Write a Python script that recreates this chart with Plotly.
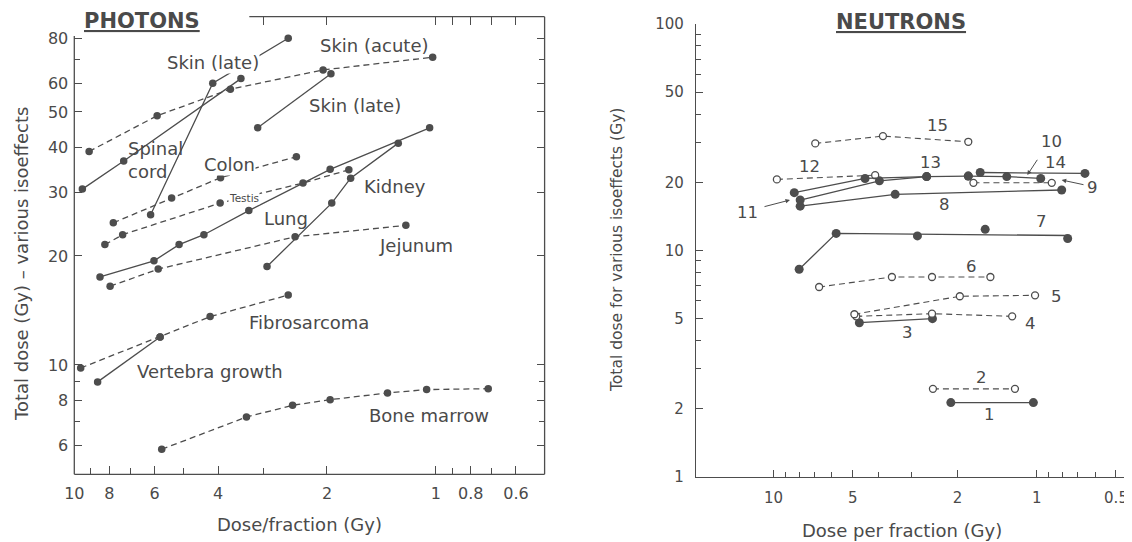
import math
import plotly.graph_objects as go

# reference canvas size; the page adds an 8 px body margin, so the figure is
# drawn 8 px smaller and every reference pixel position is shifted by 8 px
W, H = 1132, 542
OFF = 8
FW, FH = W - OFF, H - OFF
LINE = '#4d4d4d'
TEXT = '#4a4a4a'
FONT = 'DejaVu Sans'

# ---------------- PHOTONS data (dose/fraction Gy, total dose Gy) ----------------
skin_acute_x = [9.1, 5.9, 3.7, 2.05, 1.02]
skin_acute_y = [38.9, 48.8, 57.8, 65.3, 70.8]
skin_late_a_x = [9.5, 7.3, 3.46]
skin_late_a_y = [30.6, 36.6, 61.8]
spinal_cord_x = [6.15, 4.14, 2.56]
spinal_cord_y = [26.0, 60.0, 79.9]
skin_late_b_x = [3.11, 1.95]
skin_late_b_y = [45.2, 63.7]
colon_x = [7.8, 5.38, 3.94, 2.43]
colon_y = [24.7, 28.9, 32.9, 37.6]
testis_x = [8.23, 7.35, 3.95, 2.33, 1.74]
testis_y = [21.5, 22.9, 28.0, 31.8, 34.6]
lung_x = [8.49, 6.02, 5.13, 4.38, 3.29, 1.96, 1.04]
lung_y = [17.5, 19.4, 21.5, 22.9, 26.7, 34.7, 45.2]
kidney_x = [2.93, 1.94, 1.72, 1.27]
kidney_y = [18.7, 28.0, 32.8, 41.0]
jejunum_x = [7.96, 5.86, 2.45, 1.21]
jejunum_y = [16.5, 18.4, 22.6, 24.3]
fibro_x = [9.6, 5.79, 4.21, 2.56]
fibro_y = [9.81, 11.95, 13.6, 15.6]
vertebra_x = [8.62, 5.79]
vertebra_y = [8.98, 11.95]
marrow_x = [5.73, 3.34, 2.49, 1.96, 1.36, 1.06, 0.716]
marrow_y = [5.85, 7.18, 7.74, 8.02, 8.37, 8.55, 8.60]

photon_series = [
    (skin_acute_x, skin_acute_y, 'dash'),
    (skin_late_a_x, skin_late_a_y, 'solid'),
    (spinal_cord_x, spinal_cord_y, 'solid'),
    (skin_late_b_x, skin_late_b_y, 'solid'),
    (colon_x, colon_y, 'dash'),
    (testis_x, testis_y, 'dash'),
    (lung_x, lung_y, 'solid'),
    (kidney_x, kidney_y, 'solid'),
    (jejunum_x, jejunum_y, 'dash'),
    (fibro_x, fibro_y, 'dash'),
    (vertebra_x, vertebra_y, 'solid'),
    (marrow_x, marrow_y, 'dash'),
]

# ---------------- NEUTRONS data ----------------
n1_x, n1_y = [2.12, 1.03], [2.13, 2.13]
n2_x, n2_y = [2.48, 1.21], [2.45, 2.45]
n3_x, n3_y = [4.72, 2.49], [4.80, 5.00]
n4_x, n4_y = [4.85, 2.50, 1.24], [5.12, 5.26, 5.12]
n5_x, n5_y = [4.93, 1.96, 1.015], [5.23, 6.28, 6.34]
n6_x, n6_y = [6.71, 3.55, 2.50, 1.50], [6.90, 7.64, 7.64, 7.64]
n7_x, n7_y = [7.99, 5.78, 2.84, 1.57, 0.763], [8.26, 11.9, 11.6, 12.4, 11.3]
n7_fit_x, n7_fit_y = [7.99, 5.78, 0.763], [8.26, 11.9, 11.65]
n8_x, n8_y = [7.92, 3.45, 0.804], [15.7, 17.7, 18.5]
n9_x, n9_y = [1.74, 0.877], [19.9, 19.9]
n10_x, n10_y = [1.82, 1.30, 0.966], [21.3, 21.2, 20.8]
n11_x, n11_y = [7.92, 3.96, 2.62], [16.7, 20.3, 21.2]
n12_x, n12_y = [9.71, 4.11], [20.6, 21.5]
n13_x, n13_y = [8.34, 4.49, 2.62, 1.82], [18.0, 20.8, 21.2, 21.3]
n14_x, n14_y = [1.64, 0.656], [22.1, 21.9]
n15_x, n15_y = [6.94, 3.84, 1.82], [29.7, 32.0, 30.2]

# (x, y, line dash, filled marker)
neutron_series = [
    (n1_x, n1_y, 'solid', True),
    (n2_x, n2_y, 'dash', False),
    (n3_x, n3_y, 'solid', True),
    (n4_x, n4_y, 'dash', False),
    (n5_x, n5_y, 'dash', False),
    (n6_x, n6_y, 'dash', False),
    (n8_x, n8_y, 'solid', True),
    (n9_x, n9_y, 'dash', False),
    (n10_x, n10_y, 'solid', True),
    (n11_x, n11_y, 'solid', True),
    (n12_x, n12_y, 'dash', False),
    (n13_x, n13_y, 'solid', True),
    (n14_x, n14_y, 'solid', True),
    (n15_x, n15_y, 'dash', False),
]

DASH = '6px,4px'


def px(v):
    return (v - OFF) / FW


def py(v):
    return 1 - (v - OFF) / FH


fig = go.Figure()

for xs, ys, dash in photon_series:
    fig.add_trace(go.Scatter(
        x=xs, y=ys, mode='lines+markers', xaxis='x', yaxis='y',
        line=dict(color=LINE, width=1.3, dash=DASH if dash == 'dash' else 'solid'),
        marker=dict(color=LINE, size=7.5), hoverinfo='skip'))

# invisible traces so the top / right tick axes are drawn
fig.add_trace(go.Scatter(x=[2], y=[10], mode='markers', xaxis='x3', yaxis='y',
                         marker=dict(opacity=0), hoverinfo='skip'))
fig.add_trace(go.Scatter(x=[2], y=[10], mode='markers', xaxis='x', yaxis='y3',
                         marker=dict(opacity=0), hoverinfo='skip'))

# neutron series 7: fitted line + data points
fig.add_trace(go.Scatter(x=n7_fit_x, y=n7_fit_y, mode='lines', xaxis='x2', yaxis='y2',
                         line=dict(color=LINE, width=1.3), hoverinfo='skip'))
fig.add_trace(go.Scatter(x=n7_x, y=n7_y, mode='markers', xaxis='x2', yaxis='y2',
                         marker=dict(color=LINE, size=9), hoverinfo='skip'))

for xs, ys, dash, filled in neutron_series:
    if filled:
        mk = dict(color=LINE, size=9)
    else:
        mk = dict(color='white', size=7, line=dict(color=LINE, width=1.3))
    fig.add_trace(go.Scatter(
        x=xs, y=ys, mode='lines+markers', xaxis='x2', yaxis='y2',
        line=dict(color=LINE, width=1.3 if filled else 1.1,
                  dash=DASH if dash == 'dash' else 'solid'),
        marker=mk, hoverinfo='skip'))

# ---------------- axes ----------------
tickfont = dict(family=FONT, size=16, color=TEXT)
PH_L, PH_R, PH_T, PH_B = 74.3, 544.6, 16.7, 474.3
NE_L, NE_R, NE_T, NE_B = 696, 1126.7, 24, 477
ph_xrange = [1, math.log10(0.5)]
ph_yrange = [0.698, 1.962]

ph_xticks = [10, 8, 6, 4, 2, 1, 0.8, 0.6]
ph_xlabels = ['10', '8', '6', '4', '2', '1', '0.8', '0.6']
ph_xminor = [9, 7, 5, 3, 0.9, 0.7]
ph_xtop = [3, 2, 1, 0.9, 0.8, 0.7, 0.6]
ph_yticks = [6, 8, 10, 20, 30, 40, 50, 60, 80]
ph_ylabels = ['6', '8', '10', '20', '30', '40', '50', '60', '80']
ph_yminor = [7, 9, 70]

ne_xticks = [10, 5, 2, 1, 0.5]
ne_xlabels = ['10', '5', '2', '1', '0.5']
ne_xminor = [9, 8, 7, 6, 4, 3, 0.9, 0.8, 0.7, 0.6]
ne_yticks = [1, 2, 5, 10, 20, 50, 100]
ne_ylabels = ['1', '2', '5', '10', '20', '50', '100']
ne_yminor = [3, 4, 6, 7, 8, 9, 30, 40, 60, 70, 80, 90]

common = dict(type='log', showgrid=False, zeroline=False, ticks='inside',
              tickcolor=LINE, tickwidth=1.2, automargin=False)

fig.update_layout(
    template='none',
    width=FW, height=FH, margin=dict(l=0, r=0, t=0, b=0, autoexpand=False),
    paper_bgcolor='white', plot_bgcolor='white', showlegend=False,
    xaxis=dict(**common, domain=[px(PH_L), px(PH_R)], range=ph_xrange, anchor='y',
               tickvals=ph_xticks, ticktext=ph_xlabels, ticklen=8,
               minor=dict(tickvals=ph_xminor, ticks='inside', ticklen=6, tickcolor=LINE),
               showline=False, tickfont=tickfont, ticklabelstandoff=8),
    xaxis3=dict(**common, overlaying='x', side='top', range=ph_xrange, anchor='y',
                tickvals=ph_xtop, ticklen=8, showticklabels=False, showline=False),
    yaxis=dict(**common, domain=[py(PH_B), py(PH_T)], range=ph_yrange, anchor='x',
               tickvals=ph_yticks, ticktext=ph_ylabels, ticklen=8,
               minor=dict(tickvals=ph_yminor, ticks='inside', ticklen=6, tickcolor=LINE),
               showline=False, tickfont=tickfont, ticklabelstandoff=5),
    yaxis3=dict(**common, overlaying='y', side='right', range=ph_yrange, anchor='x',
                tickvals=ph_yticks, ticklen=8, showticklabels=False, showline=False,
                minor=dict(tickvals=ph_yminor, ticks='inside', ticklen=6, tickcolor=LINE)),
    xaxis2=dict(**common, domain=[px(NE_L), px(NE_R)], range=[math.log10(19.7), -0.3417],
                anchor='y2', tickvals=ne_xticks, ticktext=ne_xlabels, ticklen=7,
                minor=dict(tickvals=ne_xminor, ticks='inside', ticklen=5, tickcolor=LINE),
                showline=True, linecolor=LINE, linewidth=1.3,
                tickfont=dict(family=FONT, size=15, color=TEXT), ticklabelstandoff=7),
    yaxis2=dict(**common, domain=[py(NE_B), py(NE_T)], range=[0, 2],
                anchor='x2', tickvals=ne_yticks, ticktext=ne_ylabels, ticklen=7,
                minor=dict(tickvals=ne_yminor, ticks='inside', ticklen=5, tickcolor=LINE),
                showline=True, linecolor=LINE, linewidth=1.3,
                tickfont=dict(family=FONT, size=15, color=TEXT), ticklabelstandoff=8),
)

# photon frame (broken at top-left where the title sits)
frame = [
    (PH_L, PH_B, PH_L, 36),
    (249.3, PH_T, PH_R, PH_T),
    (PH_R, PH_T, PH_R, PH_B),
    (PH_L, PH_B, PH_R, PH_B),
]
for x0, y0, x1, y1 in frame:
    fig.add_shape(type='line', xref='paper', yref='paper',
                  x0=px(x0), y0=py(y0), x1=px(x1), y1=py(y1),
                  line=dict(color=LINE, width=1.3))


# ---------------- text ----------------
def label(text, x, y, size=18, bg=None, xanchor='center', **kw):
    fig.add_annotation(text=text, x=px(x), y=py(y), xref='paper', yref='paper',
                       showarrow=False, font=dict(family=FONT, size=size, color=TEXT),
                       bgcolor=bg, borderpad=0, xanchor=xanchor, yanchor='middle', **kw)


label('Skin (late)', 212.5, 62, bg='white')
label('Skin (acute)', 374.5, 45)
label('Skin (late)', 354.5, 105)
label('Spinal<br>cord', 127, 159.5, xanchor='left', align='left')
label('Colon', 229, 164.5, bg='white')
label('Testis', 244, 197.5, size=10.5, bg='white')
label('Lung', 285.5, 218)
label('Kidney', 395, 186.5)
label('Jejunum', 416, 245.5)
label('Fibrosarcoma', 309, 322.5)
label('Vertebra growth', 209.7, 371)
label('Bone marrow', 428.5, 415)

for t, x, y in [('15', 937, 126), ('10', 1051.7, 141), ('14', 1055, 162.5),
                ('13', 930, 162.5), ('12', 809, 167), ('11', 747.5, 212.5),
                ('9', 1092.5, 188), ('8', 944, 204), ('7', 1041.7, 221),
                ('6', 971, 266), ('5', 1056.7, 296), ('4', 1030, 323),
                ('3', 907, 332.7), ('2', 981.7, 377.8), ('1', 989, 414.5)]:
    label(t, x, y, size=16.5)

for hx, hy, tx, ty in [(790, 200, 763, 207), (1027.3, 175, 1038.3, 158.3),
                       (1061.7, 180, 1085, 185)]:
    fig.add_annotation(x=px(hx), y=py(hy), xref='paper', yref='paper', text='',
                       showarrow=True, ax=tx - hx, ay=ty - hy, arrowhead=2,
                       arrowsize=0.9, arrowwidth=1, arrowcolor=LINE, standoff=0)

label('<b><u>PHOTONS</u></b>', 141.8, 21, size=21)
label('<b><u>NEUTRONS</u></b>', 900.8, 22, size=21)
label('Dose/fraction (Gy)', 299.7, 524.5)
label('Dose per fraction (Gy)', 901.5, 530)
label('Total dose (Gy) \u2013 various isoeffects', 21, 264, textangle=-90)
label('Total dose for various isoeffects (Gy)', 617, 250, size=15.5, textangle=-90)

fig.write_html('out.html')
